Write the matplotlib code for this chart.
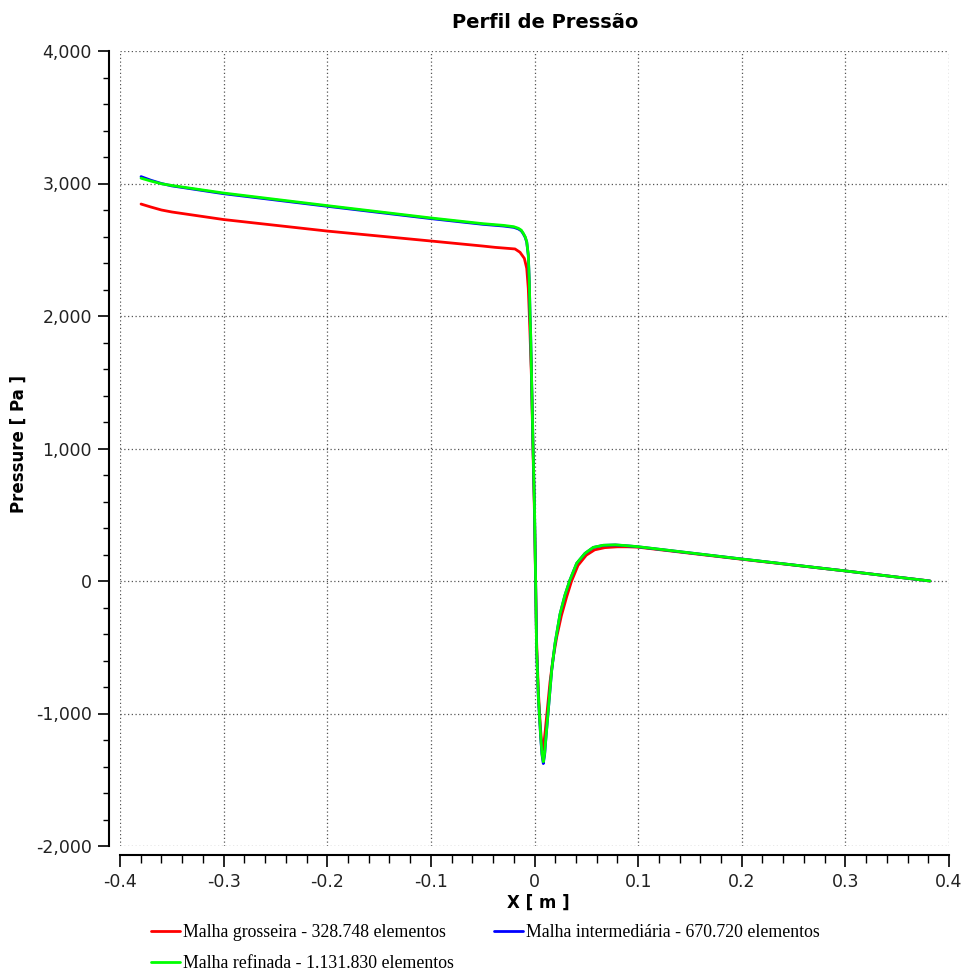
import matplotlib
matplotlib.use("Agg")
import matplotlib.pyplot as plt
from matplotlib.ticker import MultipleLocator, FuncFormatter

# ---------------- data ----------------
title = "Perfil de Pressão"
xlabel = "X [ m ]"
ylabel = "Pressure [ Pa ]"

labels = [
    "Malha grosseira - 328.748 elementos",
    "Malha intermediária - 670.720 elementos",
    "Malha refinada - 1.131.830 elementos",
]
colors = ["#ff0000", "#0000ff", "#00ff00"]

x_grossa = [-0.3797, -0.37, -0.36, -0.35, -0.30, -0.20, -0.10, -0.05, -0.038, -0.0188,
            -0.014, -0.0098, -0.0075, -0.006, -0.005, -0.0043, -0.003, -0.0015, 0.0,
            0.001, 0.002, 0.0037, 0.0055, 0.0068, 0.0079, 0.009, 0.0105, 0.0125, 0.015,
            0.018, 0.0215, 0.026, 0.031, 0.0358, 0.042, 0.050, 0.058, 0.068, 0.080,
            0.090, 0.10, 0.20, 0.30, 0.3817]
p_grossa = [2845, 2822, 2800, 2785, 2728, 2641, 2566, 2528, 2518, 2506,
            2481, 2435, 2360, 2209, 2008, 1857, 1550, 1000, 500,
            20, -450, -830, -1080, -1210, -1275, -1230, -1120, -960, -760,
            -580, -420, -260, -120, 0, 118, 195, 235, 252, 258,
            258, 255, 164, 76, 0]

x_refin = [-0.3797, -0.37, -0.36, -0.35, -0.30, -0.20, -0.10, -0.05, -0.03, -0.02,
           -0.0156, -0.0128, -0.0108, -0.009, -0.0075, -0.006, -0.005, -0.0043, -0.0037,
           -0.003, -0.0015, 0.0, 0.001, 0.002, 0.0037, 0.006, 0.0072, 0.0085, 0.0098,
           0.0111, 0.0133, 0.0166, 0.0198, 0.0246, 0.0294, 0.0342, 0.0407, 0.0487,
           0.0567, 0.0664, 0.078, 0.090, 0.10, 0.20, 0.30, 0.3817]
p_refin = [3040, 3018, 2998, 2985, 2928, 2833, 2740, 2697, 2684, 2674,
           2662, 2648, 2624, 2598, 2561, 2460, 2259, 2008, 1857,
           1600, 1050, 550, 50, -500, -873, -1175, -1300, -1364, -1300,
           -1175, -974, -672, -470, -250, -105, 8, 134, 209,
           254, 270, 273, 266, 259, 166, 76, 0]

x_inter = x_refin
p_inter = [3052, 3024, 3000, 2982, 2923, 2828, 2735, 2692, 2679, 2669,
           2657, 2643, 2620, 2594, 2557, 2458, 2259, 2008, 1857,
           1600, 1050, 550, 50, -505, -880, -1185, -1310, -1378, -1310,
           -1180, -978, -675, -472, -252, -107, 7, 133, 208,
           253, 269, 272, 265, 258, 166, 76, 0]

# ---------------- figure ----------------
W, H = 963, 973
fig = plt.figure(figsize=(W / 100, H / 100), dpi=100)
ax = fig.add_axes([120 / W, 1 - 846 / H, (949 - 120) / W, (846 - 51) / H])

for xs, ps, c, lab in [(x_grossa, p_grossa, colors[0], labels[0]),
                       (x_inter, p_inter, colors[1], labels[1]),
                       (x_refin, p_refin, colors[2], labels[2])]:
    ax.plot(xs, ps, color=c, lw=2.0, label=lab, solid_capstyle="round",
            solid_joinstyle="round")

ax.set_xlim(-0.4, 0.4)
ax.set_ylim(-2000, 4000)

ax.xaxis.set_major_locator(MultipleLocator(0.1))
ax.xaxis.set_minor_locator(MultipleLocator(0.02))
ax.yaxis.set_major_locator(MultipleLocator(1000))
ax.yaxis.set_minor_locator(MultipleLocator(200))


def xfmt(v, pos):
    v = round(v, 3)
    if abs(v) < 1e-9:
        return "0"
    return "%g" % v


def yfmt(v, pos):
    return "{:,.0f}".format(round(v))


ax.xaxis.set_major_formatter(FuncFormatter(xfmt))
ax.yaxis.set_major_formatter(FuncFormatter(yfmt))

ax.grid(True, which="major", color="#555555", lw=0.9, ls=(0, (1, 2)))

for s in ["top", "right"]:
    ax.spines[s].set_visible(False)
ax.spines["left"].set_position(("outward", 7.9))
ax.spines["bottom"].set_position(("outward", 6.5))
ax.spines["left"].set_linewidth(1.5)
ax.spines["bottom"].set_linewidth(1.5)

ax.tick_params(axis="y", which="major", length=8, width=1.2, pad=4.3,
               labelsize=12.5, labelcolor="#222222")
ax.tick_params(axis="y", which="minor", length=4, width=1.0)
ax.tick_params(axis="x", which="major", length=8.5, width=1.2, pad=4.3,
               labelsize=12.5, labelcolor="#222222")
ax.tick_params(axis="x", which="minor", length=5.5, width=1.0)

fig.text(545 / W, 1 - 22 / H, title, ha="center", va="center",
         fontsize=14, fontweight="bold", family="DejaVu Sans")
fig.text(538 / W, 1 - 903 / H, xlabel, ha="center", va="center",
         fontsize=12, fontweight="bold", family="DejaVu Sans")
fig.text(19 / W, 1 - 444 / H, ylabel, ha="center", va="center", rotation=90,
         fontsize=12, fontweight="bold", family="DejaVu Sans")

handles, labs = ax.get_legend_handles_labels()
order = [0, 2, 1]
leg = fig.legend([handles[i] for i in order], [labs[i] for i in order],
                 loc="upper left", bbox_to_anchor=(151 / W, 1 - 924 / H),
                 ncol=2, frameon=False, borderpad=0, borderaxespad=0,
                 handlelength=1.63, handletextpad=0.17, columnspacing=2.25,
                 labelspacing=0.78,
                 prop={"family": "Liberation Serif", "size": 12.8})
for lh in leg.get_lines():
    lh.set_linewidth(2.0)

fig.savefig("out.png", dpi=100)
